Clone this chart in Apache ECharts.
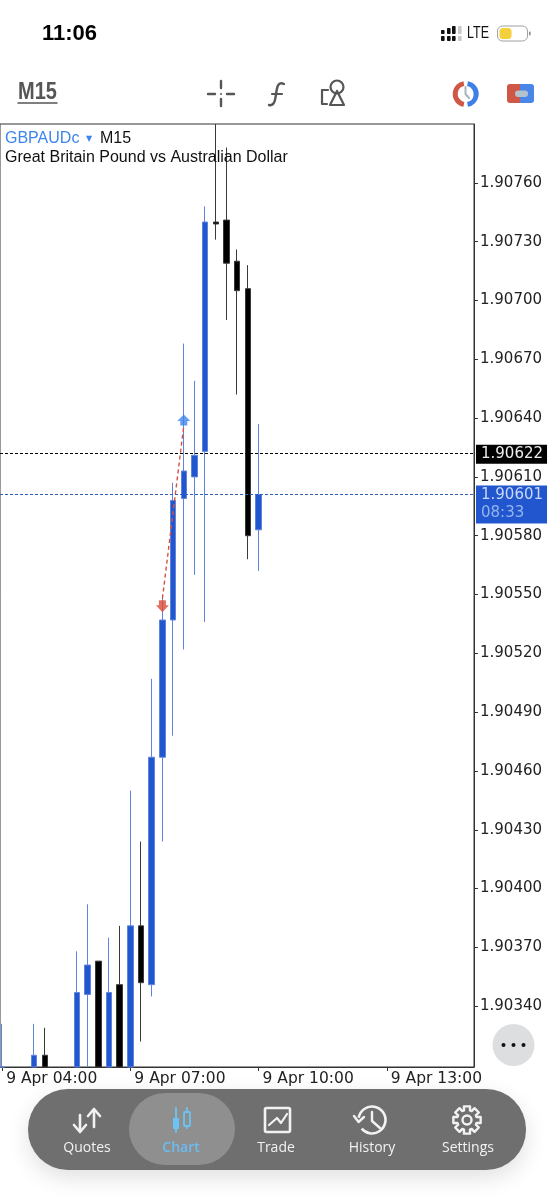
<!DOCTYPE html>
<html>
<head>
<meta charset="utf-8">
<title>GBPAUDc M15</title>
<script src="https://cdn.jsdelivr.net/npm/echarts@6/dist/echarts.min.js"></script>
<style>
  html, body { margin: 0; padding: 0; background: #fff; }
  #main { width: 554px; height: 1199px; }
</style>
</head>
<body>
<div id="main"></div>
<script>
  // slot = number of 15 minute bars after 9 Apr 04:00
  // values; bars that run off the chart stop at its edge
  const slots  = [0, 3, 4, 7, 8, 9, 10, 11, 12, 13, 14, 15, 16, 17, 18, 19, 20, 21, 22, 23, 24];
  const opens  = [1.90309, 1.90309, 1.90315, 1.90309, 1.90346, 1.90363, 1.90309, 1.90351, 1.90309, 1.90381, 1.90351, 1.90467, 1.90537, 1.90599, 1.90610, 1.90623, 1.90740, 1.90741, 1.90720, 1.90706, 1.90583];
  const closes = [1.90309, 1.90315, 1.90309, 1.90347, 1.90361, 1.90309, 1.90347, 1.90309, 1.90381, 1.90352, 1.90467, 1.90537, 1.90598, 1.90613, 1.90621, 1.90740, 1.90739, 1.90719, 1.90705, 1.90580, 1.90601];
  const lows   = [1.90309, 1.90309, 1.90309, 1.90309, 1.90309, 1.90309, 1.90309, 1.90309, 1.90309, 1.90322, 1.90345, 1.90424, 1.90478, 1.90522, 1.90560, 1.90536, 1.90731, 1.90690, 1.90652, 1.90568, 1.90562];
  const highs  = [1.90331, 1.90331, 1.90329, 1.90368, 1.90392, 1.90363, 1.90375, 1.90381, 1.90450, 1.90424, 1.90507, 1.90550, 1.90607, 1.90678, 1.90659, 1.90748, 1.90790, 1.90778, 1.90726, 1.90718, 1.90637];

  const priceTicks = [1.90340, 1.90370, 1.90400, 1.90430, 1.90460, 1.90490, 1.90520, 1.90550, 1.90580, 1.90610, 1.90640, 1.90670, 1.90700, 1.90730, 1.90760];
  const timeTicks  = [0, 12, 24, 36];
  const timeLabels = ['9 Apr 04:00', '9 Apr 07:00', '9 Apr 10:00', '9 Apr 13:00'];

  const askPrice = 1.90622;
  const bidPrice = 1.90601;
  const countdown = '08:33';

  const tradeSlots  = [15, 17];
  const tradePrices = [1.90548, 1.90636];
  const sellMark = [15, 1.90544];
  const buyMark  = [17, 1.90639];

  const BLUE = '#2256cf';
  const ARROW_DOWN = 'path://M3 0H10V5H13L6.5 12L0 5H3Z';
  const ARROW_UP   = 'path://M3 12H10V7H13L6.5 0L0 7H3Z';

  let chart = echarts.init(document.getElementById('main'), null, {renderer: 'canvas'});

  let candles = slots.map((s, i) => [s, opens[i], closes[i], lows[i], highs[i]]);

  function txt(text, x, y, font, fill, align, sx) {
    return {type: 'text', silent: true, z: 20, x: x, y: y, scaleX: sx || 1,
      style: {text: text, x: 0, y: 0, font: font, fill: fill, align: align || 'left', verticalAlign: 'middle'}};
  }
  function seg(pts, color, w) {
    return {type: 'polyline', silent: true, z: 20,
      shape: {points: pts},
      style: {stroke: color, lineWidth: w, fill: 'none', lineCap: 'round', lineJoin: 'round'}};
  }
  function box(x, y, w, h, r, fill, stroke, lw) {
    return {type: 'rect', silent: true, z: 20,
      shape: {x: x, y: y, width: w, height: h, r: r},
      style: {fill: fill || 'none', stroke: stroke || 'none', lineWidth: lw || 0}};
  }
  function ring(cx, cy, r, a0, a1, color, w, ccw) {
    return {type: 'arc', silent: true, z: 20,
      shape: {cx: cx, cy: cy, r: r, startAngle: a0 * Math.PI / 180, endAngle: a1 * Math.PI / 180, clockwise: !ccw},
      style: {stroke: color, lineWidth: w, fill: 'none'}};
  }
  function dot(cx, cy, r, fill) {
    return {type: 'circle', silent: true, z: 20, shape: {cx: cx, cy: cy, r: r}, style: {fill: fill}};
  }

  // screen furniture around the chart (phone status bar, toolbar, tab bar)
  function chrome() {
    const g = [];
    const GREY = '#565656';
    g.push(txt('11:06', 42, 33.5, '600 22px "Liberation Sans"', '#000'));

    // signal bars
    [[441, 30, 1], [447, 28, 1], [452, 26, 1], [458, 26, 0]].forEach(b => {
      g.push(box(b[0], b[1], 3.6, 34 - b[1], 0.8, b[2] ? '#111' : '#c9c9c9'));
      g.push(box(b[0], 36, 3.6, 5, 0.8, b[2] ? '#111' : '#c9c9c9'));
    });
    g.push(txt('LTE', 467, 34, '16px "Liberation Sans"', '#111', 'left', 0.78));
    g.push(box(497.5, 26, 30, 15, 5, '#fff', '#a0a0a0', 1));
    g.push(box(499.5, 28, 12, 11, 3.5, '#f6cf3c'));
    g.push(box(529, 31.5, 1.5, 4, 0.7, '#888'));

    g.push(txt('M15', 18, 93, '700 23px "Liberation Sans"', GREY, 'left', 0.87));
    g.push(seg([[18, 103], [57, 103]], GREY, 1.5));

    // crosshair
    g.push(seg([[208, 94], [215, 94]], GREY, 2.4));
    g.push(seg([[227, 94], [234, 94]], GREY, 2.4));
    g.push(seg([[221, 81], [221, 88]], GREY, 2.4));
    g.push(seg([[221, 99], [221, 106]], GREY, 2.4));
    g.push(dot(221, 94, 1, GREY));

    // indicators
    g.push({type: 'bezierCurve', silent: true, z: 20,
      shape: {x1: 284, y1: 84, cpx1: 272, cpy1: 78, cpx2: 280, cpy2: 108, x2: 269, y2: 105},
      style: {stroke: GREY, lineWidth: 2.4, fill: 'none', lineCap: 'round'}});
    g.push(seg([[272, 94], [282, 94]], GREY, 2.2));

    // objects
    g.push({type: 'circle', silent: true, z: 20, shape: {cx: 337, cy: 87, r: 6.5},
      style: {fill: 'none', stroke: GREY, lineWidth: 2.2}});
    g.push(seg([[337, 91], [330, 105], [344, 105], [337, 91]], GREY, 2.2));
    g.push(seg([[328, 90], [322, 90], [322, 104], [327, 104]], GREY, 2.2));

    // one-click trading + account icons
    g.push(ring(465.7, 94, 10.5, 100, 260, '#cf5745', 5));
    g.push(ring(465.7, 94, 10.5, -80, 80, '#3f80e6', 5));
    g.push(seg([[465.5, 87], [465.5, 94], [469, 98]], '#a9b4bf', 2));
    g.push(box(507, 84, 13, 19, [3, 0, 0, 3], '#cf5745'));
    g.push(box(520, 84, 14, 19, [0, 3, 3, 0], '#4a86e8'));
    g.push(box(515, 90.5, 13, 6.5, 3.2, '#b4c2cf'));

    // header texts
    g.push(txt('GBPAUDc', 5, 139, '16px "Liberation Sans"', '#3d85ec'));
    g.push(txt('▼', 86, 139, '8px "DejaVu Sans"', '#3d85ec'));
    g.push(txt('M15', 100, 139, '16px "Liberation Sans"', '#111'));
    g.push(txt('Great Britain Pound vs Australian Dollar', 5, 158, '16px "Liberation Sans"', '#111'));

    // more button
    g.push(dot(513.5, 1045, 21, '#dddee0'));
    [503.5, 513.5, 523.5].forEach(x => g.push(dot(x, 1045, 2, '#111')));

    // tab bar
    g.push({type: 'rect', silent: true, z: 19,
      shape: {x: 28, y: 1089, width: 498, height: 81, r: 40},
      style: {fill: '#6f6f6f', shadowBlur: 22, shadowColor: 'rgba(0,0,0,0.12)', shadowOffsetY: 8}});
    g.push(box(129, 1093, 106, 72, 36, '#8f8f8f'));

    const WHITE = '#f2f2f2';
    g.push(txt('Quotes', 87, 1148, '14px "Open Sans"', WHITE, 'center'));
    g.push(txt('Chart', 181, 1148, '600 14px "Open Sans"', '#6cbcf2', 'center'));
    g.push(txt('Trade', 276, 1148, '14px "Open Sans"', WHITE, 'center'));
    g.push(txt('History', 372, 1148, '14px "Open Sans"', WHITE, 'center'));
    g.push(txt('Settings', 468, 1148, '14px "Open Sans"', WHITE, 'center'));

    // quotes icon
    g.push(seg([[80, 1115], [80, 1131]], WHITE, 2.6));
    g.push(seg([[74, 1125], [80, 1132], [86, 1125]], WHITE, 2.6));
    g.push(seg([[94, 1110], [94, 1127]], WHITE, 2.6));
    g.push(seg([[88, 1116], [94, 1109], [100, 1116]], WHITE, 2.6));

    // chart icon
    const SKY = '#6cc4f4';
    g.push(seg([[176, 1108], [176, 1132]], SKY, 1.8));
    g.push(box(173, 1118, 6, 11, 1, SKY));
    g.push(seg([[187, 1108], [187, 1128]], SKY, 1.8));
    g.push(box(184, 1112, 6, 14, 1, '#8f8f8f', SKY, 1.8));

    // trade icon
    g.push(box(265, 1108, 25, 24, 1.5, 'none', WHITE, 2.6));
    g.push(seg([[269, 1125], [277, 1118], [281, 1123], [287, 1114]], WHITE, 2.2));

    // history icon
    g.push(ring(372, 1120, 13.5, 190, 140, WHITE, 2.6));
    g.push(seg([[354, 1116], [358.6, 1122], [364, 1117]], WHITE, 2.4));
    g.push(seg([[372, 1112], [372, 1121], [380, 1128]], WHITE, 2.4));

    // settings icon
    const gear = [];
    for (let t = 0; t < 8; t++) {
      const a = t * Math.PI / 4;
      [[-0.30, 10], [-0.22, 14], [0.22, 14], [0.30, 10]].forEach(p => {
        gear.push([467 + p[1] * Math.cos(a + p[0]), 1120 + p[1] * Math.sin(a + p[0])]);
      });
    }
    gear.push(gear[0]);
    g.push(seg(gear, WHITE, 2.4));
    g.push({type: 'circle', silent: true, z: 20, shape: {cx: 467, cy: 1120, r: 4.5},
      style: {fill: 'none', stroke: WHITE, lineWidth: 2.4}});
    return g;
  }

  let option = {
    animation: false,
    backgroundColor: '#fff',
    graphic: {elements: chrome()},
    grid: {left: 0, top: 124, width: 474, height: 943, show: true, borderColor: '#333', borderWidth: 1, backgroundColor: '#fff'},
    xAxis: {
      type: 'value', min: -0.2, max: 44.16,
      splitLine: {show: false},
      axisLine: {show: true, onZero: false, lineStyle: {color: '#333', width: 1}},
      axisTick: {show: true, length: 4, lineStyle: {color: '#333'}, customValues: timeTicks},
      axisLabel: {
        align: 'left', margin: 4, color: '#222', fontSize: 15.5, fontFamily: 'DejaVu Sans',
        customValues: timeTicks, padding: [0, 0, 0, 4], hideOverlap: false, showMinLabel: true, showMaxLabel: true,
        formatter: v => timeLabels[timeTicks.indexOf(v)]
      }
    },
    yAxis: {
      type: 'value', position: 'right', min: 1.90309, max: 1.90790, scale: true,
      splitLine: {show: false},
      axisLine: {show: true, onZero: false, lineStyle: {color: '#333', width: 1}},
      axisTick: {show: true, length: 4, lineStyle: {color: '#333'}, customValues: priceTicks},
      axisLabel: {
        margin: 6, color: '#222', fontSize: 15, fontFamily: 'DejaVu Sans', padding: [4, 0, 0, 0],
        customValues: priceTicks, formatter: v => v.toFixed(5)
      }
    },
    series: [
      {
        type: 'candlestick',
        data: candles,
        encode: {x: 0, y: [1, 2, 3, 4]},
        barWidth: 6,
        silent: true,
        itemStyle: {color: BLUE, color0: '#000', borderColor: '#5f84dd', borderColor0: '#3a3a3a', borderWidth: 1},
        markLine: {
          silent: true, animation: false, symbol: 'none', precision: 5,
          data: [
            {
              yAxis: askPrice,
              lineStyle: {color: '#000', type: [3, 2], width: 1},
              label: {
                position: 'end', distance: 2, offset: [0, 1], formatter: askPrice.toFixed(5),
                color: '#eee', fontSize: 15, fontFamily: 'DejaVu Sans',
                backgroundColor: '#000', padding: [3, 4, 1, 5]
              }
            },
            {
              yAxis: bidPrice,
              lineStyle: {color: '#2f5db8', type: [3, 2], width: 1},
              label: {
                position: 'end', distance: 2, offset: [0, 10],
                formatter: '{a|' + bidPrice.toFixed(5) + '}\n{b|' + countdown + '}',
                backgroundColor: BLUE, padding: [1, 4, 1, 5],
                rich: {
                  a: {color: '#c7d8f8', fontSize: 15, fontFamily: 'DejaVu Sans', lineHeight: 18},
                  b: {color: '#93b4f0', fontSize: 15, fontFamily: 'DejaVu Sans', lineHeight: 18}
                }
              }
            }
          ]
        }
      },
      {
        type: 'line',
        data: tradeSlots.map((s, i) => [s, tradePrices[i]]),
        showSymbol: false, silent: true, z: 5,
        lineStyle: {color: '#d9503c', type: [4, 3], width: 1.4}
      },
      {
        type: 'scatter', silent: true, z: 6,
        data: [sellMark],
        symbol: ARROW_DOWN, symbolSize: [13, 12],
        itemStyle: {color: '#dc4a35'}
      },
      {
        type: 'scatter', silent: true, z: 6,
        data: [buyMark],
        symbol: ARROW_UP, symbolSize: [13, 11],
        itemStyle: {color: '#3d85ec'}
      }
    ]
  };
  chart.setOption(option);
</script>
</body>
</html>
